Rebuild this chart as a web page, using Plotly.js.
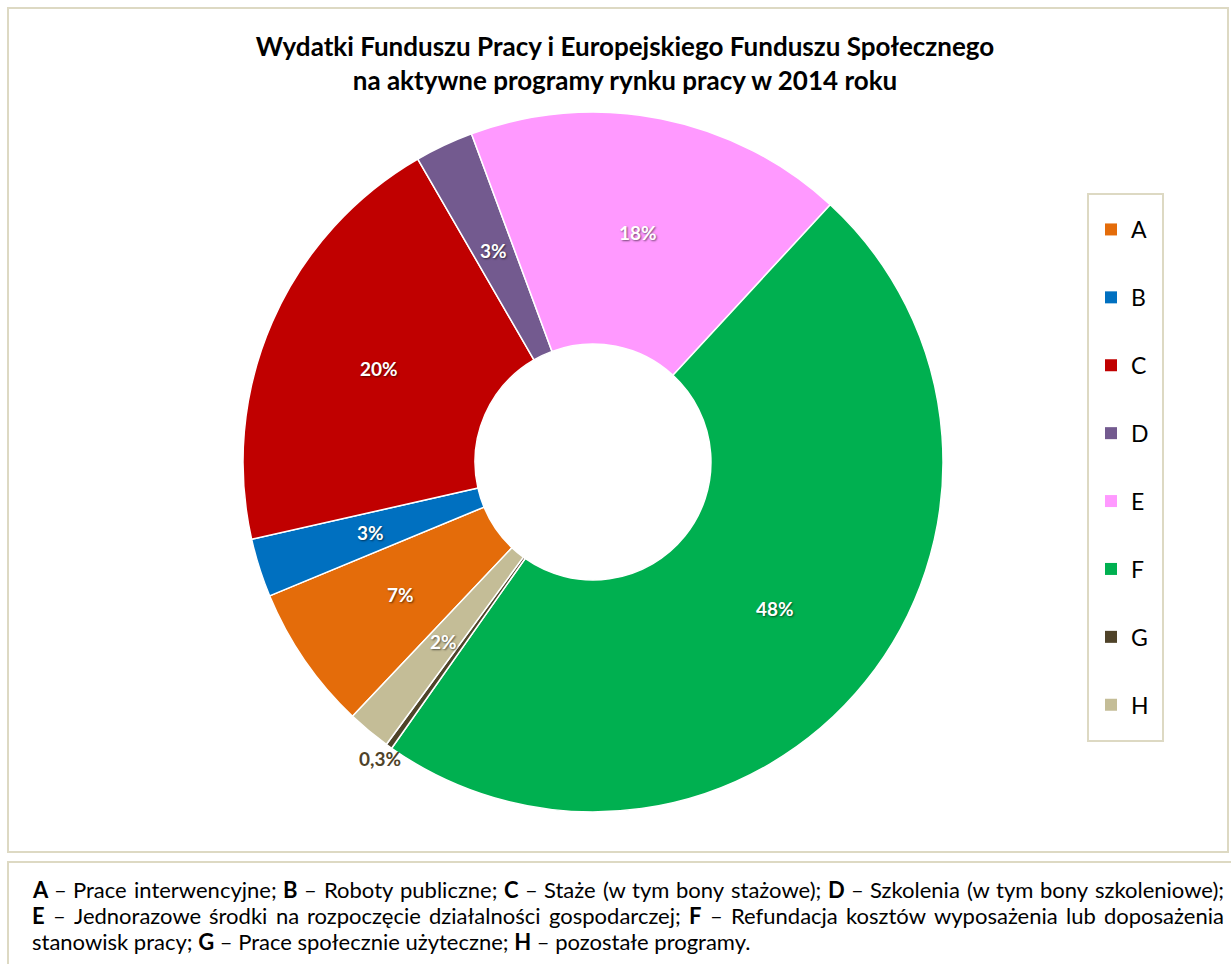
<!DOCTYPE html>
<html>
<head>
<meta charset="utf-8">
<script src="https://cdn.plot.ly/plotly-3.0.1.min.js"></script>
<style>
html,body{margin:0;padding:0;background:#fff;}
#chart{width:1231px;height:964px;}
</style>
</head>
<body>
<div id="chart"></div>
<script>
// ---- data ----
const categories = ['A','B','C','D','E','F','G','H'];
const shares = [6.7, 2.7, 20.2, 2.7, 17.5, 47.9, 0.3, 2.0];
const shareLabels = ['7%','3%','20%','3%','18%','48%','0,3%','2%'];
const colors = ['#E46C0A','#0070C0','#C00000','#735A8F','#FF99FF','#00B050','#4F4329','#C4BD97'];
const titleLines = ['Wydatki Funduszu Pracy i Europejskiego Funduszu Społecznego','na aktywne programy rynku pracy w 2014 roku'];
const footLine1 = ['<b>A</b>','–','Prace','interwencyjne;','<b>B</b>','–','Roboty','publiczne;','<b>C</b>','–','Staże','(w','tym','bony','stażowe);','<b>D</b>','–','Szkolenia','(w','tym','bony','szkoleniowe);'];
const footLine2 = ['<b>E</b>','–','Jednorazowe','środki','na','rozpoczęcie','działalności','gospodarczej;','<b>F</b>','–','Refundacja','kosztów','wyposażenia','lub','doposażenia'];
const footLine3 = 'stanowisk pracy; <b>G</b> – Prace społecznie użyteczne; <b>H</b> – pozostałe programy.';

const W = 1231, H = 964;
const FONT = 'Lato';
const px = x => x / W;
const py = y => 1 - y / H;

// pie geometry (layout)
const CX = 593, CY = 462, R = 350, HOLE = 0.337, ROT = 223.4;

const traces = [{
  type: 'pie',
  labels: categories,
  values: shares,
  text: shareLabels,
  textinfo: 'none',
  hoverinfo: 'label+text',
  sort: false,
  direction: 'clockwise',
  rotation: ROT,
  hole: HOLE,
  marker: {colors: colors, line: {color: '#ffffff', width: 1.5}},
  domain: {x: [px(CX - R), px(CX + R)], y: [py(CY + R), py(CY - R)]},
  showlegend: false,
  automargin: false
}];

// legend entries (one per category)
categories.forEach((c, i) => {
  traces.push({
    type: 'scatter', mode: 'markers', x: [null], y: [null],
    name: c, legendgroup: c, showlegend: true,
    marker: {symbol: 'square', size: 12, color: colors[i]},
    hoverinfo: 'skip'
  });
});

const annotations = [];

// slice labels: placed at each slice's mid-angle, derived from the values
const total = shares.reduce((a, b) => a + b, 0);
let cum = 0;
shares.forEach((v, i) => {
  const mid = (ROT + (cum + v / 2) / total * 360) * Math.PI / 180;
  cum += v;
  const small = v < 1;
  const r = small ? R + 15 : R * (1 + HOLE) / 2;
  const x = CX + r * Math.sin(mid), y = CY - r * Math.cos(mid);
  annotations.push({xref: 'paper', yref: 'paper', x: px(x), y: py(y), xanchor: 'center', yanchor: 'middle',
    text: '<b>' + shareLabels[i] + '</b>', showarrow: false,
    font: small ? {family: FONT, size: 19, color: colors[i]}
                : {family: FONT, size: 19, color: '#ffffff', shadow: '1px 1px 2px rgba(0,0,0,0.55)'}});
});

// justified footnote
const canvas = document.createElement('canvas');
const ctx = canvas.getContext('2d');
let FS = 22;
function wordWidth(w, fs) {
  const bold = w.startsWith('<b>');
  const t = w.replace(/<\/?b>/g, '');
  ctx.font = (bold ? 'bold ' : '') + fs + 'px ' + FONT;
  return ctx.measureText(t).width;
}
function lineFits(words, fs, span) {
  const tot = words.map(w => wordWidth(w, fs)).reduce((a, b) => a + b, 0);
  return (span - tot) / (words.length - 1) >= fs * 0.2;
}
while (FS > 12 && !(lineFits(footLine1, FS, 1192) && lineFits(footLine2, FS, 1192))) FS -= 0.5;
function justify(words, x0, x1, y) {
  const widths = words.map(w => wordWidth(w, FS));
  const tot = widths.reduce((a, b) => a + b, 0);
  const gap = (x1 - x0 - tot) / (words.length - 1);
  let x = x0;
  words.forEach((w, i) => {
    annotations.push({xref: 'paper', yref: 'paper', x: px(x), y: py(y), xanchor: 'left', yanchor: 'middle',
      text: w, showarrow: false, font: {family: FONT, size: FS, color: '#000'}});
    x += widths[i] + gap;
  });
}
justify(footLine1, 30, 1222, 889);
justify(footLine2, 30, 1222, 915);
annotations.push({xref: 'paper', yref: 'paper', x: px(30), y: py(941), xanchor: 'left', yanchor: 'middle',
  text: footLine3, showarrow: false, font: {family: FONT, size: FS, color: '#000'}});

const layout = {
  width: W, height: H,
  margin: {l: 0, r: 0, t: 0, b: 0},
  paper_bgcolor: '#ffffff', plot_bgcolor: 'rgba(0,0,0,0)',
  title: {text: '<b>' + titleLines.join('<br>') + '</b>', x: px(625), xanchor: 'center', y: py(56), yanchor: 'middle',
    font: {family: FONT, size: 26, color: '#000'}},
  xaxis: {visible: false, domain: [0, 0.01]}, yaxis: {visible: false, domain: [0, 0.01]},
  showlegend: true,
  legend: {x: px(1091), y: py(208), xanchor: 'left', yanchor: 'top', bgcolor: 'rgba(0,0,0,0)',
    borderwidth: 0, tracegroupgap: 35,
    font: {family: FONT, size: 23, color: '#000'}, itemclick: false, itemdoubleclick: false},
  shapes: [
    {type: 'rect', xref: 'paper', yref: 'paper', x0: px(8), x1: px(1228), y0: py(8), y1: py(852),
      line: {color: '#DDD9C3', width: 2}, fillcolor: 'rgba(0,0,0,0)', layer: 'below'},
    {type: 'rect', xref: 'paper', yref: 'paper', x0: px(8), x1: px(1240), y0: py(862), y1: py(975),
      line: {color: '#DDD9C3', width: 2}, fillcolor: 'rgba(0,0,0,0)', layer: 'below'},
    {type: 'rect', xref: 'paper', yref: 'paper', x0: px(1088), x1: px(1163), y0: py(194), y1: py(741),
      line: {color: '#DDD9C3', width: 2}, fillcolor: '#ffffff', layer: 'below'}
  ],
  annotations: annotations
};

Plotly.newPlot('chart', traces, layout, {displayModeBar: false, staticPlot: true});
</script>
</body>
</html>
